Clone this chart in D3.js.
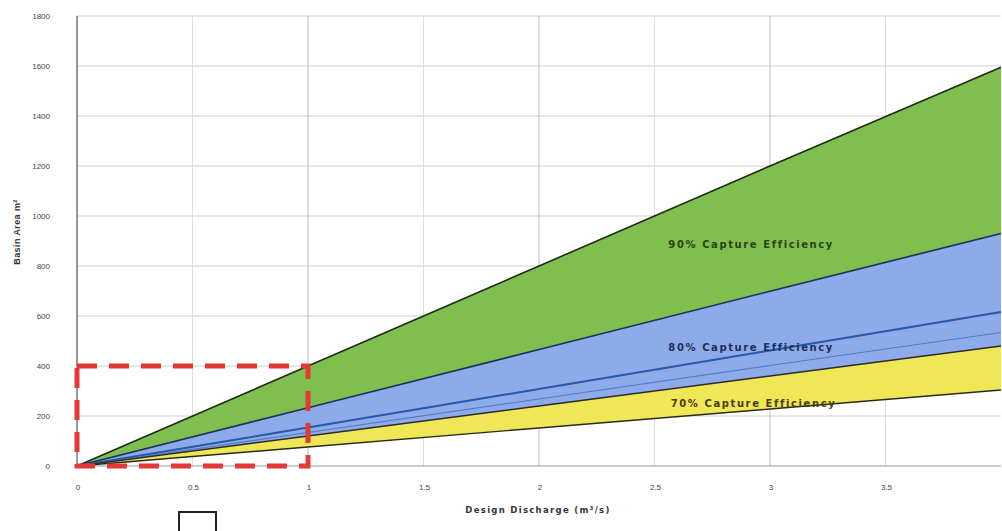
<!DOCTYPE html>
<html>
<head>
<meta charset="utf-8">
<script src="https://cdn.jsdelivr.net/npm/d3@7/dist/d3.min.js"></script>
<style>
  body { margin: 0; background: #fff; }
  svg { display: block; font-family: "Liberation Sans", Arial, sans-serif; }
</style>
</head>
<body>
<svg id="chart" width="1002" height="531"></svg>
<script>
// discharge (m3/s) and basin areas
const discharge = [0, 1, 2, 3, 4];
const top90 = [0, 400, 800, 1200, 1595];
const top80 = [0, 233, 466, 699, 930];
const mid80 = [0, 154, 308, 462, 616];
const low80 = [0, 134, 268, 402, 534];
const top70 = [0, 120, 240, 360, 480];
const low70 = [0, 76, 152, 228, 304];

const xTicks = [0, 0.5, 1, 1.5, 2, 2.5, 3, 3.5];
const yTicks = [0, 200, 400, 600, 800, 1000, 1200, 1400, 1600, 1800];

const labels = [
    {text: '90% Capture Efficiency', q: 2.56, a: 888, color: '#2b4312'},
    {text: '80% Capture Efficiency', q: 2.56, a: 476, color: '#1c2f5c'},
    {text: '70% Capture Efficiency', q: 2.57, a: 252, color: '#4a3c0c'}
];

const margin = {top: 16, right: 1, bottom: 65, left: 77};
const svg = d3.select('#chart');
const width = 1002 - margin.left - margin.right;
const height = 531 - margin.top - margin.bottom;

const x = d3.scaleLinear().domain([0, 4]).range([0, width]);
const y = d3.scaleLinear().domain([0, 1800]).range([height, 0]);

const g = svg.append('g').attr('transform', `translate(${margin.left},${margin.top})`);

//grid
g.append('g').selectAll('line').data(yTicks.slice(1)).join('line')
    .attr('x1', 0).attr('x2', width)
    .attr('y1', d => y(d)).attr('y2', d => y(d))
    .attr('stroke', '#cfcfcf').attr('stroke-width', 1);
g.append('g').selectAll('line').data(xTicks.slice(1)).join('line')
    .attr('x1', d => x(d)).attr('x2', d => x(d))
    .attr('y1', 0).attr('y2', height)
    .attr('stroke', d => d % 1 === 0 ? '#bdbdbd' : '#dedede').attr('stroke-width', 1);

//bands
const band = (hi, lo) => d3.area()
    .x((d, i) => x(discharge[i]))
    .y0((d, i) => y(lo[i]))
    .y1((d, i) => y(hi[i]))(discharge);

g.append('path').attr('d', band(top90, top80)).attr('fill', '#7fbf4f');
g.append('path').attr('d', band(top80, top70)).attr('fill', '#8cabe8');
g.append('path').attr('d', band(top70, low70)).attr('fill', '#efe756');

const line = vals => d3.line()
    .x((d, i) => x(discharge[i]))
    .y((d, i) => y(vals[i]))(discharge);

[
    [top90, '#1e2a14', 1.6],
    [top80, '#1d2f5a', 1.6],
    [mid80, '#2558a8', 2],
    [low80, '#5679c2', 1.2],
    [top70, '#2a2a30', 1.4],
    [low70, '#2a2a1c', 1.4]
].forEach(([vals, col, w]) => {
    g.append('path').attr('d', line(vals))
        .attr('fill', 'none').attr('stroke', col).attr('stroke-width', w);
});

//axes lines
g.append('line').attr('x1', 0).attr('x2', width).attr('y1', height).attr('y2', height)
    .attr('stroke', '#999').attr('stroke-width', 1);
g.append('line').attr('x1', 0).attr('x2', 0).attr('y1', 0).attr('y2', height)
    .attr('stroke', '#555').attr('stroke-width', 1.2);

//tick labels
g.append('g').selectAll('text').data(yTicks).join('text')
    .attr('x', -27).attr('y', d => y(d) + 3)
    .attr('text-anchor', 'end')
    .attr('font-size', 8).attr('fill', '#444')
    .text(d => d);
g.append('g').selectAll('text').data(xTicks).join('text')
    .attr('x', d => x(d) + 1).attr('y', height + 24)
    .attr('text-anchor', 'middle')
    .attr('font-size', 8).attr('fill', '#444')
    .text(d => d);

//axis titles
const xt = g.append('text')
    .attr('x', x(2) - 1).attr('y', height + 47)
    .attr('text-anchor', 'middle')
    .attr('font-family', '"DejaVu Sans", sans-serif')
    .attr('font-size', 8.5).attr('font-weight', 'bold').attr('fill', '#333')
    .attr('letter-spacing', 1.3);
xt.append('tspan').text('Design Discharge (m');
xt.append('tspan').attr('font-size', 5.5).attr('dy', -3).text('3');
xt.append('tspan').attr('dy', 3).text('/s)');

svg.append('text')
    .attr('transform', 'translate(20,232) rotate(-90)')
    .attr('text-anchor', 'middle')
    .attr('font-size', 9).attr('font-weight', 'bold').attr('fill', '#333')
    .attr('letter-spacing', 0.4)
    .text('Basin Area m²');

//band labels
g.append('g').selectAll('text').data(labels).join('text')
    .attr('x', d => x(d.q)).attr('y', d => y(d.a) + 4)
    .attr('font-family', '"DejaVu Sans", sans-serif')
    .attr('font-size', 10).attr('font-weight', 'bold')
    .attr('letter-spacing', 1.6)
    .attr('fill', d => d.color)
    .text(d => d.text);

//red dashed zoom box
g.append('rect')
    .attr('x', x(0)).attr('y', y(400))
    .attr('width', x(1) - x(0)).attr('height', y(0) - y(400))
    .attr('fill', 'none').attr('stroke', '#e23a35').attr('stroke-width', 5)
    .attr('stroke-dasharray', '20 12');

//cropped bracket at bottom
svg.append('path')
    .attr('d', 'M179,531 V512 H216 V531')
    .attr('fill', 'none').attr('stroke', '#222').attr('stroke-width', 2);
</script>
</body>
</html>
